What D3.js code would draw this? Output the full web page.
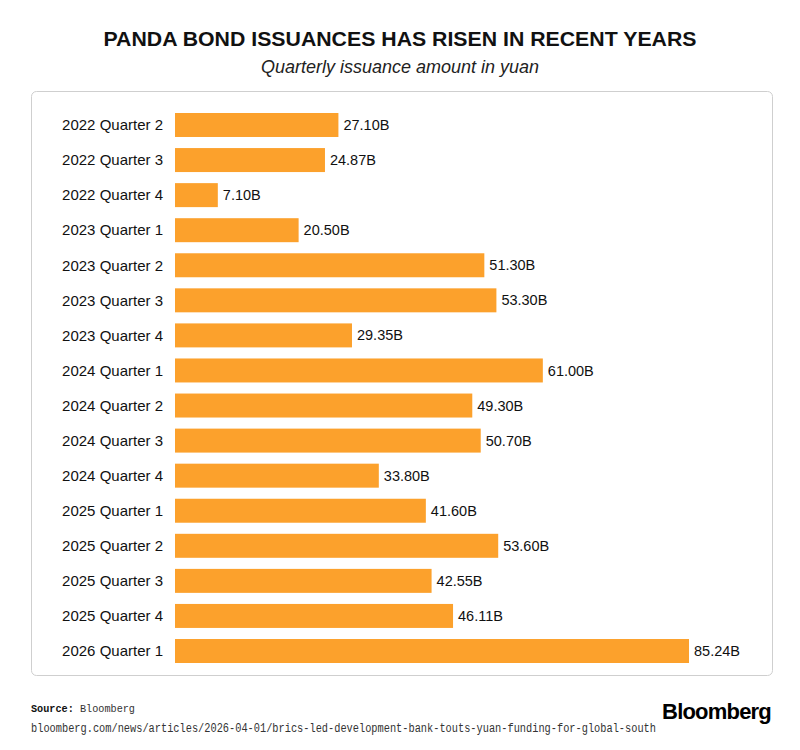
<!DOCTYPE html>
<html>
<head>
<meta charset="utf-8">
<script src="https://cdn.jsdelivr.net/npm/d3@7"></script>
<style>
  body { margin: 0; background: #fff; }
  svg { display: block; }
</style>
</head>
<body>
<svg id="viz" width="800" height="750"></svg>
<script>
const width = 800;
const height = 750;
const svg = d3.select("#viz");

// データ
const quarters = [
    "2022 Quarter 2", "2022 Quarter 3", "2022 Quarter 4",
    "2023 Quarter 1", "2023 Quarter 2", "2023 Quarter 3", "2023 Quarter 4",
    "2024 Quarter 1", "2024 Quarter 2", "2024 Quarter 3", "2024 Quarter 4",
    "2025 Quarter 1", "2025 Quarter 2", "2025 Quarter 3", "2025 Quarter 4",
    "2026 Quarter 1"
];
const amounts = [27.10, 24.87, 7.10, 20.50, 51.30, 53.30, 29.35, 61.00,
                 49.30, 50.70, 33.80, 41.60, 53.60, 42.55, 46.11, 85.24];
const valueLabels = ["27.10B", "24.87B", "7.10B", "20.50B", "51.30B", "53.30B", "29.35B", "61.00B",
                     "49.30B", "50.70B", "33.80B", "41.60B", "53.60B", "42.55B", "46.11B", "85.24B"];

const data = quarters.map((q, i) => ({ q, v: amounts[i], label: valueLabels[i] }));

const sans = "'Liberation Sans', Arial, sans-serif";
const mono = "'Liberation Mono', 'DejaVu Sans Mono', monospace";

// タイトル
svg.append("text")
    .attr("x", width / 2).attr("y", 46)
    .attr("text-anchor", "middle")
    .attr("textLength", 593).attr("lengthAdjust", "spacingAndGlyphs")
    .style("font-family", sans).style("font-weight", "bold").style("font-size", "21px")
    .attr("fill", "#111")
    .text("PANDA BOND ISSUANCES HAS RISEN IN RECENT YEARS");

svg.append("text")
    .attr("x", width / 2).attr("y", 73)
    .attr("text-anchor", "middle")
    .style("font-family", sans).style("font-style", "italic").style("font-size", "18px")
    .attr("fill", "#222")
    .text("Quarterly issuance amount in yuan");

// 枠
svg.append("rect")
    .attr("x", 31.5).attr("y", 91.5)
    .attr("width", 741).attr("height", 584)
    .attr("rx", 5)
    .attr("fill", "#fff")
    .attr("stroke", "#cfcfcf")
    .attr("stroke-width", 1);

// スケール
const x = d3.scaleLinear().domain([0, 85.24]).range([175, 689]);
const y = d3.scaleBand().domain(quarters).range([113, 663]).paddingInner(0.316).paddingOuter(0);

// バー
svg.selectAll(".bar")
    .data(data)
    .enter().append("rect")
    .attr("class", "bar")
    .attr("x", x(0))
    .attr("y", d => y(d.q))
    .attr("width", d => x(d.v) - x(0))
    .attr("height", y.bandwidth())
    .attr("fill", "#fca12c");

// カテゴリラベル
svg.selectAll(".cat")
    .data(data)
    .enter().append("text")
    .attr("class", "cat")
    .attr("x", 163)
    .attr("y", d => y(d.q) + y.bandwidth() / 2)
    .attr("dy", "0.35em")
    .attr("text-anchor", "end")
    .style("font-family", sans).style("font-size", "15px")
    .attr("fill", "#111")
    .text(d => d.q);

// 値ラベル
svg.selectAll(".val")
    .data(data)
    .enter().append("text")
    .attr("class", "val")
    .attr("x", d => x(d.v) + 5)
    .attr("y", d => y(d.q) + y.bandwidth() / 2)
    .attr("dy", "0.35em")
    .style("font-family", sans).style("font-size", "14.5px")
    .attr("fill", "#111")
    .text(d => d.label);

// フッター
const src = svg.append("text")
    .attr("x", 31).attr("y", 712)
    .attr("textLength", 104).attr("lengthAdjust", "spacingAndGlyphs")
    .style("font-family", mono).style("font-size", "11px")
    .attr("fill", "#333");
src.append("tspan").style("font-weight", "bold").attr("fill", "#111").text("Source:");
src.append("tspan").text(" Bloomberg");

svg.append("text")
    .attr("x", 31).attr("y", 732)
    .style("font-family", mono).style("font-size", "12px")
    .attr("textLength", 625).attr("lengthAdjust", "spacingAndGlyphs")
    .attr("fill", "#333")
    .text("bloomberg.com/news/articles/2026-04-01/brics-led-development-bank-touts-yuan-funding-for-global-south");

svg.append("text")
    .attr("x", 771).attr("y", 719)
    .attr("text-anchor", "end")
    .style("font-family", sans).style("font-weight", "bold").style("font-size", "22px")
    .style("letter-spacing", "-0.8px")
    .attr("fill", "#000")
    .text("Bloomberg");
</script>
</body>
</html>
